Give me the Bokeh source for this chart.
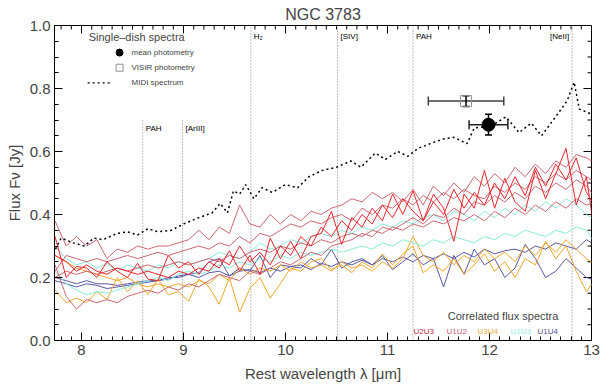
from bokeh.plotting import figure
from bokeh.models import (Range1d, SingleIntervalTicker, Label,
                          Whisker, TeeHead, ColumnDataSource, PrintfTickFormatter)
from bokeh.embed import file_html
from bokeh.resources import INLINE

# ---------------- data ----------------
title = "NGC 3783"

# common wavelength grid of the correlated-flux spectra (micron)
wl = [7.74, 7.85, 7.95, 8.05, 8.15, 8.25, 8.35, 8.45, 8.55, 8.65,
      8.75, 8.85, 8.95, 9.05, 9.15, 9.25, 9.35, 9.45, 9.55, 9.65,
      9.75, 9.85, 9.95, 10.05, 10.15, 10.25, 10.35, 10.45, 10.55, 10.65,
      10.75, 10.85, 10.95, 11.05, 11.15, 11.25, 11.35, 11.45, 11.55, 11.65,
      11.75, 11.85, 11.95, 12.05, 12.15, 12.25, 12.35, 12.45, 12.55, 12.65,
      12.75, 12.85, 12.95, 13.05]

u2u3_a = [0.33, 0.20, 0.235, 0.23, 0.20, 0.25, 0.22, 0.20, 0.245, 0.195,
          0.19, 0.27, 0.23, 0.25, 0.21, 0.25, 0.23, 0.285, 0.22, 0.27,
          0.21, 0.325, 0.26, 0.315, 0.26, 0.33, 0.34, 0.41, 0.305, 0.39,
          0.36, 0.42, 0.38, 0.465, 0.40, 0.475, 0.38, 0.465, 0.42, 0.315,
          0.465, 0.42, 0.54, 0.42, 0.515, 0.44, 0.41, 0.54, 0.45, 0.53,
          0.61, 0.43, 0.52, 0.30]
u2u3_b = [0.27, 0.25, 0.22, 0.24, 0.22, 0.21, 0.23, 0.22, 0.21, 0.22,
          0.21, 0.20, 0.22, 0.21, 0.23, 0.22, 0.26, 0.24, 0.30, 0.25,
          0.28, 0.24, 0.30, 0.27, 0.33, 0.30, 0.36, 0.33, 0.38, 0.35,
          0.40, 0.37, 0.43, 0.39, 0.45, 0.41, 0.38, 0.44, 0.40, 0.48,
          0.42, 0.47, 0.43, 0.50, 0.45, 0.52, 0.46, 0.55, 0.49, 0.56,
          0.51, 0.58, 0.47, 0.42]
u1u2_a = [0.38, 0.30, 0.33, 0.30, 0.32, 0.26, 0.29, 0.28, 0.30, 0.29,
          0.30, 0.30, 0.31, 0.32, 0.35, 0.32, 0.36, 0.34, 0.43, 0.37,
          0.36, 0.40, 0.37, 0.40, 0.38, 0.41, 0.40, 0.42, 0.43, 0.45,
          0.44, 0.47, 0.45, 0.47, 0.44, 0.48, 0.43, 0.49, 0.46, 0.50,
          0.47, 0.52, 0.49, 0.53, 0.50, 0.55, 0.52, 0.56, 0.53, 0.57,
          0.55, 0.59, 0.58, 0.56]
u1u2_b = [0.22, 0.27, 0.26, 0.25, 0.26, 0.25, 0.26, 0.27, 0.26, 0.27,
          0.28, 0.27, 0.28, 0.29, 0.30, 0.29, 0.31, 0.30, 0.33, 0.31,
          0.34, 0.33, 0.35, 0.37, 0.36, 0.38, 0.37, 0.39, 0.40, 0.38,
          0.42, 0.40, 0.43, 0.42, 0.45, 0.43, 0.46, 0.44, 0.47, 0.45,
          0.48, 0.46, 0.45, 0.49, 0.47, 0.50, 0.48, 0.52, 0.50, 0.53,
          0.51, 0.54, 0.52, 0.50]
u1u2_c = [0.20, 0.22, 0.21, 0.22, 0.21, 0.22, 0.23, 0.22, 0.23, 0.24,
          0.23, 0.24, 0.25, 0.24, 0.25, 0.26, 0.25, 0.27, 0.26, 0.28,
          0.29, 0.28, 0.30, 0.29, 0.31, 0.30, 0.32, 0.31, 0.33, 0.34,
          0.33, 0.35, 0.34, 0.36, 0.35, 0.37, 0.36, 0.38, 0.37, 0.39,
          0.38, 0.40, 0.38, 0.41, 0.39, 0.42, 0.40, 0.43, 0.41, 0.44,
          0.42, 0.45, 0.43, 0.44]
u1u2_d = [0.24, 0.14, 0.10, 0.13, 0.12, 0.13, 0.12, 0.14, 0.15, 0.16,
          0.15, 0.17, 0.16, 0.18, 0.17, 0.19, 0.21, 0.20, 0.19, 0.22,
          0.21, 0.23, 0.25, 0.24, 0.26, 0.28, 0.27, 0.30, 0.31, 0.32,
          0.34, 0.33, 0.36, 0.35, 0.37, 0.39, 0.37, 0.40, 0.39, 0.42,
          0.40, 0.44, 0.43, 0.46, 0.44, 0.47, 0.45, 0.49, 0.47, 0.50,
          0.48, 0.51, 0.49, 0.45]
u3u4_a = [0.16, 0.12, 0.135, 0.12, 0.155, 0.13, 0.20, 0.155, 0.19, 0.145,
          0.195, 0.145, 0.155, 0.125, 0.195, 0.17, 0.115, 0.20, 0.09, 0.165,
          0.20, 0.135, 0.18, 0.23, 0.22, 0.25, 0.26, 0.225, 0.24, 0.215,
          0.25, 0.23, 0.275, 0.24, 0.275, 0.30, 0.215, 0.24, 0.22, 0.26,
          0.21, 0.24, 0.275, 0.22, 0.25, 0.20, 0.26, 0.24, 0.315, 0.26,
          0.30, 0.22, 0.155, 0.20]
u3u4_b = [0.27, 0.25, 0.23, 0.22, 0.21, 0.20, 0.19, 0.20, 0.18, 0.17,
          0.18, 0.17, 0.18, 0.17, 0.19, 0.18, 0.21, 0.19, 0.23, 0.21,
          0.23, 0.22, 0.24, 0.22, 0.25, 0.23, 0.24, 0.22, 0.25, 0.23,
          0.24, 0.22, 0.25, 0.23, 0.26, 0.33, 0.27, 0.25, 0.28, 0.24,
          0.27, 0.25, 0.29, 0.26, 0.28, 0.25, 0.30, 0.27, 0.31, 0.28,
          0.32, 0.29, 0.26, 0.24]
u1u3_a = [0.30, 0.26, 0.24, 0.25, 0.23, 0.245, 0.22, 0.24, 0.23, 0.22,
          0.24, 0.23, 0.25, 0.24, 0.25, 0.26, 0.28, 0.27, 0.26, 0.28,
          0.31, 0.29, 0.30, 0.32, 0.31, 0.33, 0.34, 0.33, 0.35, 0.34,
          0.36, 0.35, 0.37, 0.36, 0.38, 0.37, 0.39, 0.40, 0.38, 0.41,
          0.40, 0.38, 0.41, 0.39, 0.42, 0.40, 0.43, 0.41, 0.44, 0.42,
          0.45, 0.43, 0.40, 0.38]
u1u3_b = [0.22, 0.18, 0.16, 0.145, 0.155, 0.15, 0.16, 0.17, 0.18, 0.19,
          0.20, 0.19, 0.21, 0.22, 0.21, 0.22, 0.24, 0.23, 0.25, 0.24,
          0.26, 0.25, 0.27, 0.26, 0.28, 0.27, 0.28, 0.29, 0.28, 0.29,
          0.30, 0.29, 0.31, 0.30, 0.32, 0.31, 0.30, 0.32, 0.31, 0.33,
          0.32, 0.31, 0.33, 0.32, 0.34, 0.33, 0.35, 0.34, 0.33, 0.35,
          0.34, 0.36, 0.35, 0.30]
u1u4_a = [0.19, 0.18, 0.17, 0.18, 0.175, 0.165, 0.17, 0.175, 0.18, 0.185,
          0.19, 0.195, 0.205, 0.21, 0.215, 0.25, 0.26, 0.205, 0.23, 0.22,
          0.27, 0.20, 0.24, 0.235, 0.23, 0.26, 0.24, 0.29, 0.23, 0.25,
          0.26, 0.24, 0.27, 0.225, 0.25, 0.275, 0.24, 0.26, 0.17, 0.27,
          0.21, 0.29, 0.24, 0.26, 0.20, 0.23, 0.305, 0.26, 0.20, 0.22,
          0.26, 0.23, 0.20, 0.19]
u1u4_b = [0.20, 0.19, 0.18, 0.19, 0.18, 0.18, 0.175, 0.18, 0.185, 0.19,
          0.19, 0.20, 0.20, 0.21, 0.20, 0.215, 0.22, 0.205, 0.22, 0.225,
          0.215, 0.23, 0.22, 0.235, 0.24, 0.225, 0.245, 0.235, 0.25, 0.24,
          0.255, 0.24, 0.26, 0.25, 0.265, 0.25, 0.27, 0.26, 0.275, 0.26,
          0.28, 0.265, 0.29, 0.275, 0.285, 0.29, 0.28, 0.30, 0.29, 0.31,
          0.30, 0.29, 0.32, 0.30]

baselines = ["U2U3", "U1U2", "U3U4", "U1U3", "U1U4"]
baseline_colors = ["#e8262c", "#cc6670", "#f2a62a", "#86ecd6", "#5a58a6"]
baseline_label_colors = ["#c41e3a", "#d06070", "#f0a830", "#90f0e0", "#505090"]
corr_spectra = {
    "U1U4": [u1u4_a, u1u4_b],
    "U3U4": [u3u4_a, u3u4_b],
    "U1U3": [u1u3_a, u1u3_b],
    "U1U2": [u1u2_a, u1u2_b, u1u2_c, u1u2_d],
    "U2U3": [u2u3_a, u2u3_b],
}

# single-dish MIDI spectrum
midi_wl = [7.745, 7.80, 7.92, 8.03, 8.12, 8.21, 8.35, 8.45, 8.55, 8.65,
           8.75, 8.88, 9.02, 9.15, 9.28, 9.36, 9.43, 9.49, 9.55, 9.61,
           9.69, 9.77, 9.87, 10.0, 10.12, 10.23, 10.36, 10.50, 10.64, 10.74,
           10.88, 10.98, 11.10, 11.20, 11.30, 11.42, 11.55, 11.65, 11.78, 11.85,
           12.01, 12.16, 12.29, 12.41, 12.51, 12.67, 12.76, 12.83, 12.88, 12.99]
midi_f = [0.29, 0.325, 0.31, 0.30, 0.325, 0.32, 0.34, 0.345, 0.335, 0.355,
          0.345, 0.35, 0.373, 0.39, 0.405, 0.435, 0.405, 0.475, 0.465, 0.495,
          0.45, 0.485, 0.47, 0.495, 0.485, 0.52, 0.54, 0.55, 0.57, 0.55,
          0.595, 0.575, 0.60, 0.585, 0.61, 0.625, 0.64, 0.645, 0.625, 0.675,
          0.68, 0.71, 0.66, 0.69, 0.65, 0.72, 0.76, 0.82, 0.735, 0.72]

# photometry
mean_phot_wl = [11.99]
mean_phot_f = [0.685]
mean_phot_wl_err = [0.19]
mean_phot_f_err = [0.033]
visir_wl = [11.77]
visir_f = [0.76]
visir_wl_err = [0.37]
visir_f_err = [0.017]

# emission-line / feature markers
feat_wl = [8.60, 8.99, 9.66, 10.51, 11.25, 12.81]
feat_names = ["PAH", "[ArIII]", "H\u2082", "[SIV]", "PAH", "[NeII]"]

x_lo, x_hi = 7.735, 13.0
y_lo, y_hi = 0.0, 1.0
x_major, x_nminor = 1.0, 10
y_major, y_nminor = 0.2, 4

# ---------------- figure ----------------
FONT = "Liberation Sans"
W, H = 600, 385
BL, BR, BT, BB = 54, 9, 25, 45
p = figure(width=W, height=H, output_backend="svg", toolbar_location=None,
           x_range=Range1d(x_lo, x_hi), y_range=Range1d(y_lo, y_hi),
           min_border_left=BL, min_border_right=BR, min_border_top=BT,
           min_border_bottom=BB)
p.outline_line_color = "black"
p.outline_line_width = 1
p.grid.visible = False
p.background_fill_color = "white"
p.border_fill_color = "white"

p.title.text = title
p.title.align = "center"
p.title.text_font = FONT
p.title.text_font_size = "16px"
p.title.text_font_style = "normal"
p.title.standoff = 5
p.title.offset = 0

for ax, itv, nm in [(p.xaxis[0], x_major, x_nminor), (p.yaxis[0], y_major, y_nminor)]:
    ax.ticker = SingleIntervalTicker(interval=itv, num_minor_ticks=nm)
    ax.axis_line_color = "black"
    ax.major_tick_in = 8
    ax.major_tick_out = 0
    ax.minor_tick_in = 4
    ax.minor_tick_out = 0
    ax.major_tick_line_color = "black"
    ax.minor_tick_line_color = "black"
    ax.major_label_text_font = FONT
    ax.axis_label_text_font = FONT
    ax.axis_label_text_font_style = "normal"
    ax.major_label_text_font_size = "15px"
    ax.axis_label_text_font_size = "15px"
    ax.major_label_standoff = 4
p.xaxis[0].axis_label_standoff = 7
p.yaxis[0].axis_label_standoff = 4
p.xaxis[0].axis_label = "Rest wavelength \u03bb [\u03bcm]"
p.yaxis[0].axis_label = "Flux F\u03bd [Jy]"
p.yaxis[0].formatter = PrintfTickFormatter(format="%.1f")

# mirrored inward ticks on top and right frame edges
fw, fh = W - BL - BR, H - BT - BB
dx_per_px = (x_hi - x_lo) / fw
dy_per_px = (y_hi - y_lo) / fh
step = x_major / x_nminor
k0 = int(x_lo / step) + 1
tx = [round(k * step, 4) for k in range(k0, int(round(x_hi / step)))]
tx_len = [8 if abs(t - round(t / x_major) * x_major) < 1e-6 else 4 for t in tx]
p.segment(x0=tx, y0=[y_hi] * len(tx), x1=tx, y1=[y_hi - L * dy_per_px for L in tx_len],
          line_color="black", line_width=1)
stepy = y_major / y_nminor
ty = [round(k * stepy, 4) for k in range(1, int(round(y_hi / stepy)))]
ty_len = [8 if abs(t / y_major - round(t / y_major)) < 1e-6 else 4 for t in ty]
p.segment(x0=[x_hi] * len(ty), y0=ty, x1=[x_hi - L * dx_per_px for L in ty_len], y1=ty,
          line_color="black", line_width=1)

# feature lines
feat_top = [0.70, 0.70, 1.0, 1.0, 1.0, 1.0]
p.segment(x0=feat_wl, y0=[0.0] * len(feat_wl), x1=feat_wl, y1=feat_top,
          line_color="#808080", line_dash="1 2", line_width=1)
for w, n, t in zip(feat_wl, feat_names, feat_top):
    lab_y = 0.672 if t < 1 else 0.965
    right = n == "[NeII]"
    p.add_layout(Label(x=w, y=lab_y, x_offset=-3 if right else 3, text=n,
                       text_align="right" if right else "left",
                       text_baseline="middle", text_font=FONT,
                       text_font_size="8px", text_color="black"))

# correlated flux spectra
color_of = dict(zip(baselines, baseline_colors))
for bl in ["U1U4", "U3U4", "U1U3", "U1U2", "U2U3"]:
    for spec in corr_spectra[bl]:
        p.line(wl, spec, line_color=color_of[bl], line_width=1)

# MIDI spectrum
p.line(midi_wl, midi_f, line_color="black", line_dash="2 3", line_width=1.5)

# photometry with error bars
def err_source(x, y, xe, ye):
    return ColumnDataSource(dict(
        x=x, y=y,
        xl=[a - b for a, b in zip(x, xe)], xu=[a + b for a, b in zip(x, xe)],
        yl=[a - b for a, b in zip(y, ye)], yu=[a + b for a, b in zip(y, ye)]))

src_m = err_source(mean_phot_wl, mean_phot_f, mean_phot_wl_err, mean_phot_f_err)
src_v = err_source(visir_wl, visir_f, visir_wl_err, visir_f_err)

for src, col in [(src_v, "#404040"), (src_m, "#202020")]:
    p.add_layout(Whisker(source=src, base="y", lower="xl", upper="xu", dimension="width",
                         line_color=col, line_width=1.5,
                         upper_head=TeeHead(size=9, line_color=col, line_width=1.5),
                         lower_head=TeeHead(size=9, line_color=col, line_width=1.5)))
    p.add_layout(Whisker(source=src, base="x", lower="yl", upper="yu", dimension="height",
                         line_color="black", line_width=1.5,
                         upper_head=TeeHead(size=7, line_color="black", line_width=1.5),
                         lower_head=TeeHead(size=7, line_color="black", line_width=1.5)))

p.scatter("x", "y", source=src_v, marker="square", size=11, fill_alpha=0,
          line_color="#909090", line_width=1)
p.scatter("x", "y", source=src_m, marker="circle", size=13, fill_color="black",
          line_color="black")

# single-dish legend (upper left)
p.add_layout(Label(x=8.07, y=0.965, text="Single\u2013dish spectra", text_font=FONT,
                   text_font_size="11px", text_baseline="middle"))
p.scatter([8.373], [0.914], marker="circle", size=7, fill_color="black", line_color="black")
p.scatter([8.373], [0.866], marker="square", size=7, fill_alpha=0, line_color="#909090")
p.line([8.06, 8.30], [0.818, 0.818], line_color="black", line_dash="2 3", line_width=1.2)
for yy, txt in [(0.914, "mean photometry"), (0.866, "VISIR photometry"), (0.818, "MIDI spectrum")]:
    p.add_layout(Label(x=8.49, y=yy, text=txt, text_font=FONT, text_font_size="8px",
                       text_baseline="middle"))

# correlated flux legend (lower right)
p.add_layout(Label(x=11.59, y=0.079, text="Correlated flux spectra", text_font=FONT,
                   text_font_size="11px", text_baseline="middle"))
for xx, bl, c in zip([11.255, 11.578, 11.882, 12.206, 12.47], baselines, baseline_label_colors):
    p.add_layout(Label(x=xx, y=0.028, text=bl, text_font=FONT, text_font_size="8px",
                       text_baseline="middle", text_color=c))

open("out.html", "w").write(file_html(p, INLINE))
